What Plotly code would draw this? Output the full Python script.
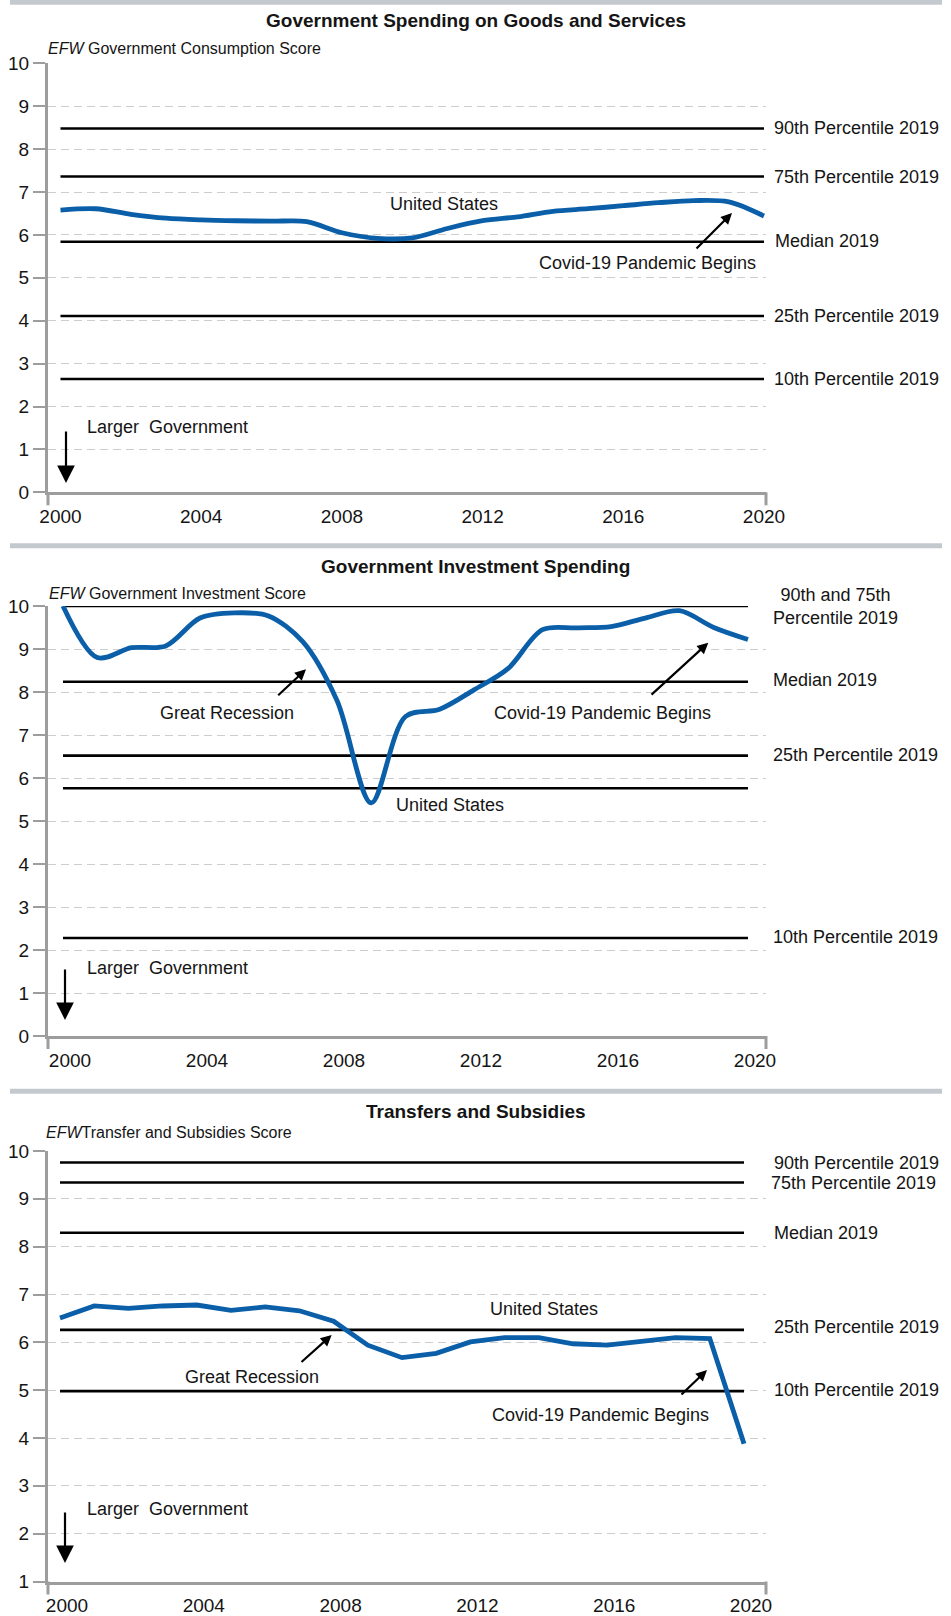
import plotly.graph_objects as go

PAGE_W, PAGE_H = 951, 1616
OFF = 0
W, H = PAGE_W - 2 * OFF, PAGE_H - 2 * OFF

# ---------------- data ----------------
years = list(range(2000, 2021))

# Panel 1: Government Consumption
us_consumption = [6.58, 6.61, 6.48, 6.39, 6.35, 6.33, 6.32, 6.31, 6.05, 5.92, 5.93,
                  6.15, 6.33, 6.42, 6.55, 6.61, 6.68, 6.75, 6.80, 6.77, 6.44]
pct_consumption_labels = ["90th Percentile 2019", "75th Percentile 2019", "Median 2019",
                          "25th Percentile 2019", "10th Percentile 2019"]
pct_consumption_values = [8.48, 7.36, 5.84, 4.11, 2.64]

# Panel 2: Government Investment
us_investment = [10.0, 8.80, 9.03, 9.07, 9.72, 9.84, 9.77, 9.17, 7.80, 5.42, 7.43,
                 7.60, 8.05, 8.55, 9.45, 9.49, 9.52, 9.72, 9.89, 9.50, 9.22]
pct_investment_labels = ["90th and 75th<br>Percentile 2019", "Median 2019",
                         "25th Percentile 2019", "", "10th Percentile 2019"]
pct_investment_values = [10.0, 8.24, 6.52, 5.76, 2.28]

# Panel 3: Transfers and Subsidies
us_transfers = [6.51, 6.76, 6.71, 6.76, 6.78, 6.67, 6.74, 6.66, 6.44, 5.94, 5.68,
                5.77, 6.01, 6.10, 6.10, 5.97, 5.94, 6.01, 6.10, 6.08, 3.88]
pct_transfers_labels = ["90th Percentile 2019", "75th Percentile 2019", "Median 2019",
                        "25th Percentile 2019", "10th Percentile 2019"]
pct_transfers_values = [9.76, 9.34, 8.29, 6.26, 4.98]

titles = ["Government Spending on Goods and Services",
          "Government Investment Spending",
          "Transfers and Subsidies"]
axis_titles = ["<i>EFW</i> Government Consumption Score",
               "<i>EFW</i> Government Investment Score",
               "<i>EFW</i>Transfer and Subsidies Score"]
x_ticks = [2000, 2004, 2008, 2012, 2016, 2020]

# ---------------- style ----------------
FONT = "Liberation Sans, Arial, Helvetica, sans-serif"
BLUE = "#0a5fa8"
AXIS_GRAY = "#9d9d9d"
GRID_GRAY = "#cdcdcd"
TXT = "#151515"


def px(x):
    return (x - OFF) / W


def py(y):
    return 1 - (y - OFF) / H


fig = go.Figure()

X_LEFT, X_RIGHT = 48, 766
panels = [
    dict(top=63.3, bottom=492.3, yr=[0, 10], xr=[1999.645, 2020.057], yt=list(range(0, 11)),
         us=us_consumption, vals=pct_consumption_values, shape="spline", shift=0),
    dict(top=606.0, bottom=1036.0, yr=[0, 10], xr=[1999.562, 2020.526], yt=list(range(0, 11)),
         us=us_investment, vals=pct_investment_values, shape="spline", shift=7),
    dict(top=1151.0, bottom=1581.5, yr=[1, 10], xr=[1999.649, 2020.643], yt=list(range(1, 11)),
         us=us_transfers, vals=pct_transfers_values, shape="linear", shift=7),
]

annotations = []
shapes = []

for i, p in enumerate(panels):
    n = "" if i == 0 else str(i + 1)
    xa, ya = "x" + n, "y" + n
    for v in p["vals"]:
        fig.add_trace(go.Scatter(x=[2000, 2020], y=[v, v], mode="lines",
                                 line=dict(color="#000000", width=2.6),
                                 xaxis=xa, yaxis=ya, hoverinfo="skip", showlegend=False))
    fig.add_trace(go.Scatter(x=years, y=p["us"], mode="lines",
                             line=dict(color=BLUE, width=4.8, shape=p["shape"], smoothing=0.9),
                             xaxis=xa, yaxis=ya, hoverinfo="skip", showlegend=False))
    fig.layout["xaxis" + n] = dict(
        domain=[px(X_LEFT), px(X_RIGHT)], range=p["xr"], anchor=ya, automargin=False,
        showline=True, linecolor=AXIS_GRAY, linewidth=3, ticks="",
        tickvals=x_ticks, ticktext=[str(t) for t in x_ticks],
        ticklabelstandoff=5, ticklabelshift=p["shift"],
        tickfont=dict(family=FONT, size=19, color=TXT), showgrid=False, zeroline=False,
        fixedrange=True)
    fig.layout["yaxis" + n] = dict(
        domain=[py(p["bottom"]), py(p["top"])], range=p["yr"], anchor=xa, automargin=False,
        showline=True, linecolor=AXIS_GRAY, linewidth=3, ticks="outside", ticklen=12,
        tickwidth=2, tickcolor=AXIS_GRAY, tickvals=p["yt"],
        tickfont=dict(family=FONT, size=19, color=TXT),
        showgrid=True, gridcolor=GRID_GRAY, gridwidth=1, griddash="8px,5px",
        zeroline=False, fixedrange=True)
    dom_h = p["bottom"] - p["top"]
    for xd in (0, 1):
        shapes.append(dict(type="line", xref=xa + " domain", yref=ya + " domain",
                           x0=xd, x1=xd, y0=0, y1=-13 / dom_h,
                           line=dict(color=AXIS_GRAY, width=3)))

# separator bars
for y0, y1 in [(0, 4.7), (543.3, 548.3), (1088.8, 1093.8)]:
    shapes.append(dict(type="rect", xref="paper", yref="paper",
                       x0=px(10), x1=px(942), y0=py(y1), y1=py(y0),
                       fillcolor="#c4c8cf", line=dict(width=0), layer="below"))


def text(x, y, s, size=18, xanchor="center", color=TXT):
    annotations.append(dict(x=px(x), y=py(y), xref="paper", yref="paper", text=s,
                            showarrow=False, xanchor=xanchor, yanchor="middle",
                            font=dict(family=FONT, size=size, color=color)))


def arrow(tx, ty, hx, hy, head=2, size=1.0, width=2.2):
    annotations.append(dict(x=px(hx), y=py(hy), xref="paper", yref="paper", text="",
                            showarrow=True, axref="pixel", ayref="pixel",
                            ax=tx - hx, ay=ty - hy, arrowhead=head, arrowsize=size,
                            arrowwidth=width, arrowcolor="#000000", standoff=0))


for title, yy in zip(titles, [21, 567, 1111.7]):
    text(475.5, yy, "<b>" + title + "</b>", size=19)
for at, (xx, yy) in zip(axis_titles, [(46, 49), (47, 593), (44, 1132)]):
    text(xx, yy, at, size=16, xanchor="left")

lab_pos = [
    [(772, 128.3), (772, 176.7), (773, 240.5), (772, 316), (772, 379)],
    [(771, 606), (771, 680), (771, 755), None, (771, 937)],
    [(771.7, 1162.7), (769, 1182.7), (771.7, 1233.3), (771.7, 1326.7), (771.7, 1390)],
]
for labs, poss in zip([pct_consumption_labels, pct_investment_labels, pct_transfers_labels], lab_pos):
    for lab, pos in zip(labs, poss):
        if pos is None or not lab:
            continue
        text(pos[0], pos[1], lab, size=18, xanchor="left")

# panel 1 annotations
text(444, 204, "United States")
text(647.5, 263, "Covid-19 Pandemic Begins")
arrow(695, 250, 732, 213)
text(85, 427, "Larger&nbsp;&nbsp;Government", xanchor="left")
arrow(66, 430, 66, 483, size=1.6)

# panel 2 annotations
text(227, 713, "Great Recession")
arrow(276.7, 696.7, 306, 669.3)
text(449.5, 805, "United States")
text(602.5, 713, "Covid-19 Pandemic Begins")
arrow(650, 696, 708.3, 642.7)
text(85, 967.5, "Larger&nbsp;&nbsp;Government", xanchor="left")
arrow(65, 968, 65, 1020, size=1.6)

# panel 3 annotations
text(543.7, 1309.3, "United States")
text(252, 1376.7, "Great Recession")
arrow(300, 1363.3, 331.7, 1335)
text(600.5, 1414.6, "Covid-19 Pandemic Begins")
arrow(680, 1396, 707, 1370)
text(85, 1509, "Larger&nbsp;&nbsp;Government", xanchor="left")
arrow(65, 1511, 65, 1563, size=1.6)

fig.update_layout(width=W, height=H, margin=dict(l=0, r=0, t=0, b=0, pad=0),
                  paper_bgcolor="white", plot_bgcolor="white",
                  annotations=annotations, shapes=shapes, showlegend=False,
                  font=dict(family=FONT, color=TXT))

fig.write_html("out.html", config={"displayModeBar": False},
               post_script="document.body.style.margin='0px';document.documentElement.style.overflow='hidden';")
